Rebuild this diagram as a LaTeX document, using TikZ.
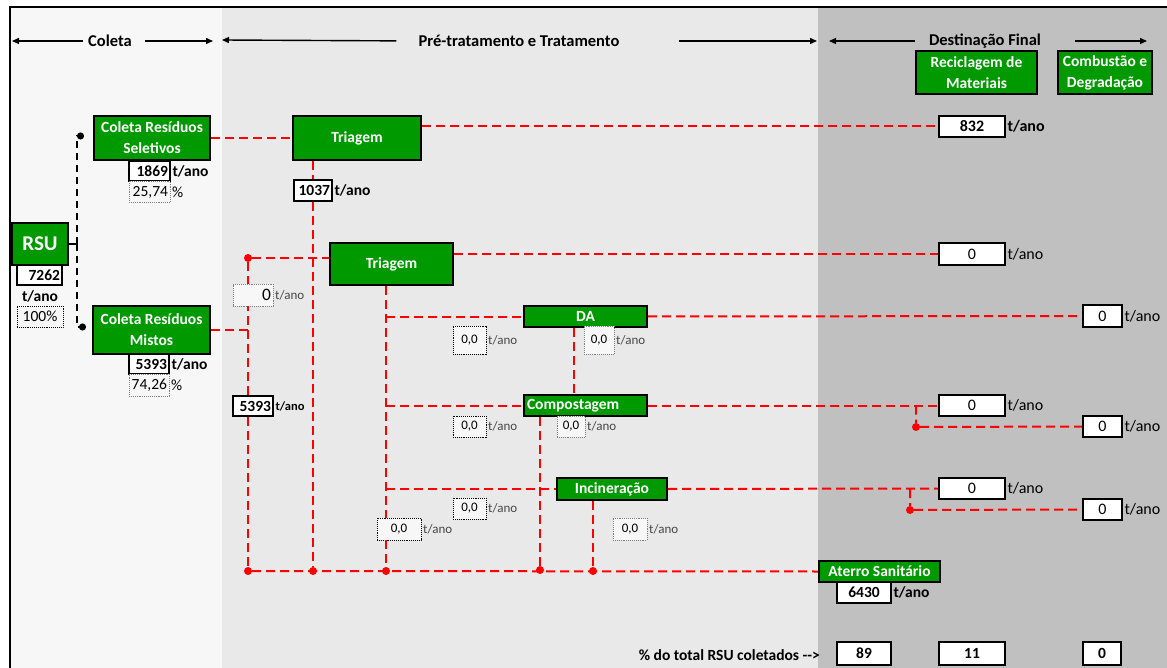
\documentclass[tikz,border=0pt]{standalone}
\usepackage{fontspec}
\setmainfont{Carlito}
\usetikzlibrary{arrows.meta}

\definecolor{verde}{RGB}{0,153,0}
\definecolor{fundocoleta}{RGB}{247,247,247}
\definecolor{fundotrat}{RGB}{233,233,233}
\definecolor{fundodest}{RGB}{192,192,192}
\definecolor{cinza}{RGB}{70,70,70}
\definecolor{vermelho}{RGB}{255,0,0}

\newcommand{\grande}{\fontsize{15.5}{21}\selectfont}
\newcommand{\cabeca}{\fontsize{16.5}{20}\selectfont}
\newcommand{\pequena}{\fontsize{13}{15}\selectfont}

\begin{document}
\begin{tikzpicture}[x=1pt, y=-1pt,
  etapa/.style = {draw, line width=2pt, fill=verde, text=white, font=\grande\bfseries, align=center, inner sep=0pt},
  valor/.style = {draw, line width=1.6pt, fill=white, font=\grande\bfseries, inner sep=2pt},
  nulo/.style = {draw, line width=1.6pt, fill=white, font=\fontsize{16}{18}\selectfont, inner sep=2pt},
  pontos/.style = {draw=black, densely dotted, line width=0.9pt, fill=fundocoleta, font=\grande, inner sep=2pt},
  pontosc/.style = {pontos, draw=gray},
  dir/.style = {text width=#1, align=right},
  unid/.style = {anchor=west, font=\grande\bfseries, inner sep=1.5pt},
  unidc/.style = {anchor=west, font=\pequena, text=cinza, inner sep=1.5pt},
  titulo/.style = {font=\cabeca\bfseries, inner sep=0pt},
  seta/.style = {line width=1.4pt, -{Triangle[length=7pt, width=6pt]}},
  ligacao/.style = {vermelho, line width=2pt, dash pattern=on 9pt off 5pt},
  ponto/.style = {circle, fill=vermelho, inner sep=0pt, minimum size=8pt},
  coleta/.style = {line width=1.5pt, dash pattern=on 7pt off 5pt, -{Circle[length=7pt]}},
]
\useasboundingbox (0,0) rectangle (1167,668);

% fundo das tres fases
\fill[fundocoleta] (10,8) rectangle (222,668);
\fill[fundotrat] (222,8) rectangle (818,668);
\fill[fundodest] (818,8) rectangle (1167,668);
\draw[line width=2pt] (1167,7) -- (10,7) -- (10,668);

% cabecalhos
\node[titulo] (tcol) at (110,41) {Coleta};
\node[titulo] (tpre) at (519,41) {Pré-tratamento e Tratamento};
\node[titulo] (tdes) at (985,41) {Destinação Final};
\coordinate (ca) at (12,41);
\coordinate (cb) at (213,41);
\coordinate (cc) at (222,40);
\coordinate (cd) at (817,41);
\coordinate (ce) at (829,41);
\coordinate (cf) at (1147,41);
\draw[seta, shorten <=5pt] (tcol.west) -- (ca);
\draw[seta, shorten <=13pt] (tcol.east) -- (cb);
\draw[seta, shorten <=22pt] (tpre.west) -- (cc);
\draw[seta, shorten <=59pt] (tpre.east) -- (cd);
\draw[seta, shorten <=14pt] (tdes.west) -- (ce);
\draw[seta, shorten <=34pt] (tdes.east) -- (cf);

% etapas
\node[etapa, minimum width=56pt, minimum height=42pt, font=\fontsize{21}{24}\selectfont\bfseries] (rsu) at (40,244) {RSU};
\node[etapa, minimum width=116pt, minimum height=44pt] (colsel) at (152,138) {Coleta Resíduos\\Seletivos};
\node[etapa, minimum width=117pt, minimum height=48pt] (colmis) at (151.5,330) {Coleta Resíduos\\Mistos};
\node[etapa, minimum width=128pt, minimum height=44pt] (triag1) at (357,138) {Triagem};
\node[etapa, minimum width=123pt, minimum height=42pt] (triag2) at (391.5,264) {Triagem};
\node[etapa, minimum width=123pt, minimum height=21pt] (da) at (585.5,316.5) {DA};
\node[etapa, minimum width=123pt, minimum height=21pt, text width=117pt, align=left] (comp) at (585.5,405.5) {Compostagem};
\node[etapa, minimum width=110pt, minimum height=22pt] (inc) at (612,489) {Incineração};
\node[etapa, minimum width=121pt, minimum height=21pt] (aterro) at (879.5,571.5) {Aterro Sanitário};
\node[etapa, minimum width=121pt, minimum height=43pt] (recic) at (976.5,72.5) {Reciclagem de\\Materiais};
\node[etapa, minimum width=94pt, minimum height=43pt] (combus) at (1105,72.5) {Combustão e\\Degradação};

% quantidades da coleta
\node[valor, dir=41pt, minimum height=20pt] (v7262) at (39.5,275) {7262};
\node[unid, anchor=center] (u7262) at (40,296) {t/ano};
\node[pontos, minimum width=46pt, minimum height=21pt] (p100) at (40,316.5) {100\%};
\node[valor, dir=37pt, minimum height=20pt] (v1869) at (149.5,171) {1869};
\node[unid] (u1869) at (v1869.east) {t/ano};
\node[pontosc, dir=37pt, minimum height=21pt] (p2574) at (149.5,192) {25,74};
\node[unid, font=\grande] (u2574) at (p2574.east) {\%};
\node[valor, dir=36pt, minimum height=20pt] (v5393a) at (149,364) {5393};
\node[unid] (u5393a) at (v5393a.east) {t/ano};
\node[pontosc, dir=36pt, minimum height=22pt] (p7426) at (149,385) {74,26};
\node[unid, font=\grande] (u7426) at (p7426.east) {\%};

% quantidades do tratamento
\node[valor, dir=34pt, minimum height=21pt] (v1037) at (313,190.5) {1037};
\node[unid] (u1037) at (v1037.east) {t/ano};
\node[pontosc, dir=36pt, minimum height=22pt, font=\fontsize{17.5}{18}\selectfont] (n0) at (253,295) {0};
\node[unidc] (un0) at (n0.east) {t/ano};
\node[valor, dir=36pt, minimum height=20pt] (v5393b) at (253,406) {5393};
\node[unid, font=\fontsize{12.5}{14}\selectfont\bfseries] (u5393b) at (v5393b.east) {t/ano};
\node[pontos, font=\pequena, minimum width=33pt, minimum height=28pt] (z1) at (469.5,340) {0,0};
\node[unidc] (uz1) at (z1.east) {t/ano};
\node[pontosc, font=\pequena, minimum width=30pt, minimum height=28pt] (z2) at (599,340) {0,0};
\node[unidc] (uz2) at (z2.east) {t/ano};
\node[pontos, font=\pequena, minimum width=33pt, minimum height=21pt] (z3) at (469.5,426.5) {0,0};
\node[unidc] (uz3) at (z3.east) {t/ano};
\node[pontosc, font=\pequena, minimum width=28pt, minimum height=21pt] (z4) at (571,426.5) {0,0};
\node[unidc] (uz4) at (z4.east) {t/ano};
\node[pontos, font=\pequena, minimum width=33pt, minimum height=21pt] (z5) at (469.5,508.5) {0,0};
\node[unidc] (uz5) at (z5.east) {t/ano};
\node[pontos, font=\pequena, minimum width=44pt, minimum height=22pt] (z6) at (399,529) {0,0};
\node[unidc] (uz6) at (z6.east) {t/ano};
\node[pontosc, font=\pequena, minimum width=34pt, minimum height=22pt] (z7) at (630,529) {0,0};
\node[unidc] (uz7) at (z7.east) {t/ano};

% destinacao final
\node[valor, font=\fontsize{16}{18}\selectfont\bfseries, minimum width=66pt, minimum height=21pt] (r832) at (972,126.5) {832};
\node[unid, font=\fontsize{16}{18}\selectfont\bfseries] (u832) at (r832.east) {t/ano};
\node[nulo, minimum width=66pt, minimum height=22pt] (r0a) at (972,254) {0};
\node[unid, font=\fontsize{16}{18}\selectfont] (ur0a) at (r0a.east) {t/ano};
\node[nulo, minimum width=39pt, minimum height=22pt] (r0b) at (1102.5,316) {0};
\node[unid, font=\fontsize{16}{18}\selectfont] (ur0b) at (r0b.east) {t/ano};
\node[nulo, minimum width=66pt, minimum height=21pt] (r0c) at (972,405.5) {0};
\node[unid, font=\fontsize{16}{18}\selectfont] (ur0c) at (r0c.east) {t/ano};
\node[nulo, minimum width=39pt, minimum height=21pt] (r0d) at (1102.5,426.5) {0};
\node[unid, font=\fontsize{16}{18}\selectfont] (ur0d) at (r0d.east) {t/ano};
\node[nulo, minimum width=66pt, minimum height=21pt] (r0e) at (972,488.5) {0};
\node[unid, font=\fontsize{16}{18}\selectfont] (ur0e) at (r0e.east) {t/ano};
\node[nulo, minimum width=39pt, minimum height=21pt] (r0f) at (1102.5,509.5) {0};
\node[unid, font=\fontsize{16}{18}\selectfont] (ur0f) at (r0f.east) {t/ano};
\node[valor, minimum width=54pt, minimum height=21pt] (v6430) at (864,592.5) {6430};
\node[unid] (u6430) at (v6430.east) {t/ano};

% percentuais finais
\node[titulo, font=\grande\bfseries, anchor=east] (ttotal) at (820,655) {\% do total RSU coletados -{}->};
\node[valor, minimum width=54pt, minimum height=23pt] (p89) at (864,653.5) {89};
\node[valor, minimum width=66pt, minimum height=23pt] (p11) at (972,653.5) {11};
\node[valor, minimum width=38pt, minimum height=23pt] (p0) at (1102,653.5) {0};

% pontos de juncao
\node[ponto] (c1) at (248,258) {};
\node[ponto] (c0) at (248,571) {};
\node[ponto] (c2) at (313,571) {};
\node[ponto] (c3) at (386,571) {};
\node[ponto] (c4) at (540,570) {};
\node[ponto] (c5) at (593,571) {};
\node[ponto] (c6) at (916,427) {};
\node[ponto] (c7) at (910,510) {};

% RSU para as coletas
\coordinate (rj) at (77,244);
\coordinate (ps) at (84,136);
\coordinate (pm) at (86,327);
\draw[line width=1.5pt] (rsu.east) -- (rj);
\draw[coleta] (rj) |- (ps);
\draw[coleta] (rj) |- (pm);

% coleta seletiva
\draw[ligacao] (colsel.east) -- (triag1.west);
\draw[ligacao] (triag1.east |- r832) -- (r832.west);
\draw[ligacao] (triag1.south -| v1037) -- (v1037.north);
\draw[ligacao] (v1037.south) -- (c2);

% coleta mista
\draw[ligacao] (colmis.east) -- (colmis.east -| c1) -- (c1 |- n0.south);
\draw[ligacao] (c1) -- (c1 |- n0.north);
\draw[ligacao] (colmis.east -| c1) -- (c1 |- v5393b.north);
\draw[ligacao] (c1 |- v5393b.south) -- (c0);
\draw[ligacao] (c1) -- (c1 -| triag2.west);
\draw[ligacao] (triag2.east |- r0a) -- (r0a.west);

% triagem 2 para os tratamentos
\draw[ligacao] (triag2.south -| c3) -- (c3 |- z6.north);
\draw[ligacao] (c3 |- z6.south) -- (c3);
\draw[ligacao] (c3 |- da) -- (da.west);
\draw[ligacao] (c3 |- comp) -- (comp.west);
\draw[ligacao] (c3 |- inc) -- (inc.west);

% tratamentos para destinacao
\draw[ligacao] (da.east) -- (r0b.west);
\draw[ligacao] ([xshift=-11.5pt]da.south) -- ([xshift=-11.5pt]comp.north);
\draw[ligacao] (comp.east) -- (r0c.west);
\draw[ligacao] (c6 |- comp.east) -- (c6) -- (r0d.west);
\draw[ligacao] (comp.south -| c4) -- (c4);
\draw[ligacao] (inc.east) -- (r0e.west);
\draw[ligacao] (c7 |- inc.east) -- (c7) -- (r0f.west);
\draw[ligacao] (inc.south -| c5) -- (c5);
\draw[ligacao] (c0) -- (aterro.west);

\end{tikzpicture}
\end{document}
